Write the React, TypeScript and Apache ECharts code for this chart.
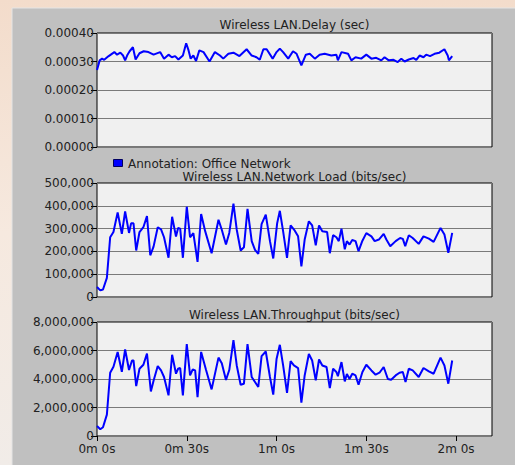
import React, { useEffect, useRef } from "react";
import * as echarts from "echarts";

const delayTimes = [0, 0.9, 1.7, 2.4, 3.9, 5.8, 6.7, 7.8, 8.7, 9.4, 10.2, 10.9, 12, 12.9, 14.2, 15.6, 17.2, 18.9, 21.1, 22.4, 23.9, 25, 26.1, 27.2, 28.7, 29.8, 30.6, 31.3, 32.2, 33.1, 34.2, 35.6, 37.6, 39.4, 41.1, 42.2, 43.9, 45.6, 47.6, 50, 51.7, 53.3, 54.4, 55.6, 56.7, 58.7, 60, 61.1, 62.2, 63.9, 65.5, 66.7, 68.3, 69.8, 71.1, 72.8, 74.4, 76.1, 78.3, 80, 80.5, 81.7, 83.9, 85, 86.4, 88.3, 90, 91.7, 93.3, 95, 96.1, 97.5, 99.1, 100.5, 101.7, 102.8, 104.2, 105.8, 106.7, 107.8, 109.1, 110, 111.3, 112.8, 114.4, 116.1, 117.2, 117.6, 118.7];
const delayValues = [0.000270, 0.000304, 0.000310, 0.000306, 0.000319, 0.000333, 0.000324, 0.000331, 0.000321, 0.000304, 0.000324, 0.000336, 0.000350, 0.000307, 0.000329, 0.000336, 0.000333, 0.000324, 0.000333, 0.000310, 0.000324, 0.000315, 0.000319, 0.000307, 0.000321, 0.000364, 0.000339, 0.000310, 0.000321, 0.000302, 0.000339, 0.000333, 0.000300, 0.000333, 0.000321, 0.000310, 0.000327, 0.000331, 0.000319, 0.000343, 0.000321, 0.000315, 0.000306, 0.000343, 0.000343, 0.000310, 0.000333, 0.000345, 0.000333, 0.000310, 0.000336, 0.000327, 0.000286, 0.000324, 0.000327, 0.000310, 0.000324, 0.000327, 0.000321, 0.000324, 0.000304, 0.000333, 0.000327, 0.000304, 0.000315, 0.000310, 0.000324, 0.000310, 0.000313, 0.000304, 0.000315, 0.000304, 0.000306, 0.000298, 0.000310, 0.000300, 0.000307, 0.000312, 0.000306, 0.000321, 0.000315, 0.000324, 0.000319, 0.000327, 0.000331, 0.000343, 0.000321, 0.000304, 0.000319];

const loadTimes = [0, 1.1, 2, 3.3, 4.4, 5.5, 6.9, 8.3, 9.4, 10.7, 11.4, 12.2, 13.1, 14.2, 15.5, 16.7, 17.8, 18.9, 20.3, 21.4, 22.4, 23.9, 25.1, 26.4, 27.1, 27.8, 28.7, 30, 31.1, 32.2, 33.6, 34.8, 36.1, 38.3, 40.6, 41.7, 43.1, 44.2, 45.6, 46.7, 48, 49.1, 50.3, 51.7, 52.8, 53.9, 55, 56.4, 57.8, 58.9, 60.2, 61.1, 62.2, 63.5, 64.7, 66.1, 67.2, 68.3, 69.4, 70.8, 71.9, 73.1, 74.2, 75.3, 76.9, 77.8, 78.9, 80, 80.8, 81.7, 82.8, 83.5, 84.4, 85.3, 86.4, 87.4, 88.7, 90, 91.7, 92.8, 94.2, 95.8, 96.7, 98, 99.8, 101.3, 102.2, 103, 104.2, 105.5, 107.5, 109.1, 110.9, 112.5, 114.8, 116.1, 117.4, 118.7];
const loadValues = [44000, 29000, 33000, 84000, 262000, 285000, 371000, 277000, 375000, 281000, 323000, 323000, 204000, 285000, 306000, 355000, 183000, 221000, 306000, 297000, 262000, 172000, 352000, 265000, 303000, 300000, 172000, 396000, 262000, 280000, 154000, 364000, 291000, 192000, 339000, 295000, 230000, 281000, 410000, 295000, 204000, 218000, 387000, 245000, 207000, 189000, 320000, 361000, 245000, 169000, 323000, 378000, 288000, 172000, 314000, 291000, 266000, 134000, 252000, 332000, 314000, 227000, 314000, 288000, 285000, 192000, 271000, 262000, 245000, 300000, 209000, 245000, 230000, 250000, 245000, 201000, 247000, 280000, 266000, 245000, 252000, 277000, 252000, 223000, 245000, 259000, 255000, 223000, 271000, 259000, 233000, 266000, 256000, 242000, 303000, 274000, 194000, 281000];

const tputTimes = [0, 1.1, 2, 3.3, 4.4, 5.5, 6.9, 8.3, 9.4, 10.7, 11.7, 12.2, 13.1, 14.2, 15.5, 16.7, 18, 18.9, 20.3, 21.4, 22.4, 23.9, 25.1, 26.4, 27.1, 27.8, 28.7, 30, 31.1, 32, 32.8, 33.6, 34.8, 36.4, 38.3, 40.6, 41.7, 43.1, 44.2, 45.6, 46.7, 48, 49.1, 50.3, 51.7, 52.8, 53.9, 55, 56.4, 57.8, 58.9, 60, 61.1, 62.2, 63.5, 64.7, 65.8, 67.2, 68.3, 69.4, 70.8, 71.9, 73.1, 74.2, 75.3, 76.7, 77.8, 78.9, 80, 80.5, 81.7, 82.8, 83.5, 84.4, 85.3, 86.4, 87.4, 88.7, 90, 91.7, 93.1, 94.4, 95.8, 97.2, 98.3, 99.8, 101.1, 102.2, 103.1, 104.2, 105.5, 107.5, 109.1, 110.9, 112.5, 114.8, 116.1, 117.4, 118.7];
const tputValues = [700000, 470000, 610000, 1500000, 4440000, 4860000, 5890000, 4510000, 6070000, 4630000, 5300000, 5300000, 3500000, 4720000, 5000000, 5790000, 3130000, 3880000, 4910000, 4600000, 4140000, 2850000, 5700000, 4370000, 4720000, 4770000, 2850000, 6450000, 4250000, 4670000, 4600000, 2730000, 5900000, 4670000, 3270000, 5500000, 5100000, 3930000, 4630000, 6730000, 4950000, 3600000, 3670000, 6450000, 4140000, 3790000, 3440000, 5600000, 5930000, 4140000, 2900000, 5400000, 6400000, 4950000, 3030000, 5250000, 4950000, 4770000, 2340000, 4250000, 5750000, 5300000, 3900000, 5370000, 4950000, 4840000, 3370000, 4720000, 4490000, 4200000, 5190000, 3830000, 4350000, 4000000, 4370000, 4250000, 3600000, 4490000, 5000000, 4600000, 4300000, 4440000, 4840000, 4000000, 3950000, 4250000, 4440000, 4490000, 3790000, 4720000, 4600000, 4140000, 4770000, 4530000, 4370000, 5500000, 4950000, 3670000, 5300000];

const chartTitles = ["Wireless LAN.Delay (sec)", "Wireless LAN.Network Load (bits/sec)", "Wireless LAN.Throughput (bits/sec)"];
const legendLabel = "Annotation: Office Network";
const xTickValues = [0, 30, 60, 90, 120];
const yRanges = [
  { max: 0.0004, interval: 0.0001 },
  { max: 500000, interval: 100000 },
  { max: 8000000, interval: 2000000 },
];

const FONT = "DejaVu Sans";
const LEFT = 97;
const RIGHT = 492;
const TOPS = [33, 183, 322];
const H = 114;

const fmtTime = (v: number) => `${Math.floor(v / 60)}m ${Math.round(v % 60)}s`;
const fmtDelay = (v: number) => v.toFixed(5);
const fmtNum = (v: number) => Math.round(v).toLocaleString("en-US");

export default function App() {
  const ref = useRef<HTMLDivElement>(null);
  useEffect(() => {
    if (!ref.current) return;
    const chart = echarts.init(ref.current, undefined, { renderer: "svg" });
    const seriesData = [
      delayTimes.map((t, i) => [t, delayValues[i]]),
      loadTimes.map((t, i) => [t, loadValues[i]]),
      tputTimes.map((t, i) => [t, tputValues[i]]),
    ];
    const fmts = [fmtDelay, fmtNum, fmtNum];
    const titleY = [25, 176.5, 315];
    chart.setOption({
      animation: false,
      backgroundColor: "transparent",
      textStyle: { fontFamily: FONT },
      graphic: [
        { type: "rect", z: -10, shape: { x: 12, y: 8, width: 510, height: 460 }, style: { fill: "#c0c0c0", stroke: "#e4e4e4", lineWidth: 1 } },
        ...chartTitles.map((t, i) => ({
          type: "text",
          x: (LEFT + RIGHT) / 2,
          y: titleY[i],
          style: { text: t, fontFamily: FONT, fontSize: 12, lineHeight: 11, fill: "#222", align: "center", verticalAlign: "middle" },
        })),
        { type: "rect", shape: { x: 113.5, y: 159.5, width: 9, height: 7 }, style: { fill: "#0000ff", stroke: "#000060", lineWidth: 1 } },
        { type: "text", x: 128, y: 163.5, style: { text: legendLabel, fontFamily: FONT, fontSize: 12, lineHeight: 11, fill: "#222", verticalAlign: "middle" } },
      ],
      grid: TOPS.map((top) => ({
        left: LEFT,
        top,
        width: RIGHT - LEFT,
        height: H,
        show: true,
        backgroundColor: "#f0f0f0",
        borderColor: "#000",
        borderWidth: 1,
        z: 0,
      })),
      xAxis: TOPS.map((_, i) => ({
        type: "value",
        gridIndex: i,
        min: 0,
        max: 132,
        interval: 30,
        axisLine: { show: false },
        splitLine: { show: false },
        axisTick: i === 2 ? { show: true, length: 5, lineStyle: { color: "#000" }, customValues: xTickValues } : { show: false },
        axisLabel: i === 2
          ? { show: true, customValues: xTickValues, formatter: fmtTime, color: "#222", fontFamily: FONT, fontSize: 12, lineHeight: 10, margin: 8 }
          : { show: false },
      })),
      yAxis: yRanges.map((r, i) => ({
        type: "value",
        gridIndex: i,
        min: 0,
        max: r.max,
        interval: r.interval,
        axisLine: { show: false },
        axisTick: { show: true, length: 6, lineStyle: { color: "#000" } },
        splitLine: { show: true, lineStyle: { color: "#7a7a7a", width: 1 } },
        axisLabel: { formatter: fmts[i], color: "#222", fontFamily: FONT, fontSize: 12, lineHeight: 9, margin: 3 },
      })),
      series: seriesData.map((d, i) => ({
        type: "line",
        xAxisIndex: i,
        yAxisIndex: i,
        data: d,
        showSymbol: false,
        symbol: "none",
        lineStyle: { color: "#0000ff", width: 2 },
        z: 5,
      })),
    });
    return () => chart.dispose();
  }, []);
  return (
    <div
      style={{
        position: "fixed",
        left: 0,
        top: 0,
        width: 515,
        height: 465,
        background: "linear-gradient(to bottom, #f3dccb 0%, #f6e9df 50%, #f1ece8 100%)",
      }}
    >
      <div ref={ref} style={{ width: 515, height: 465 }} />
    </div>
  );
}
